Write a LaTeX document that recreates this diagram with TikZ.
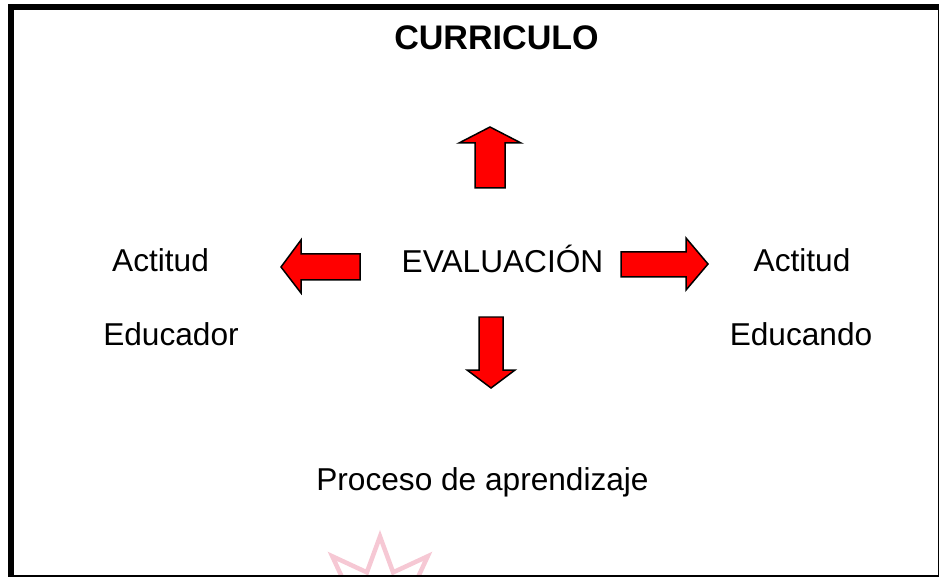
\documentclass[tikz,border=0pt]{standalone}
\usepackage{fontspec}
\setmainfont{Liberation Sans}
\usetikzlibrary{shapes.geometric}

\definecolor{sellorosa}{RGB}{246,200,212}

\begin{document}
\begin{tikzpicture}[%
    x=0.02cm,
    y=-0.02cm,
    lbl/.style={font={\fontsize{18}{21}\selectfont}, inner sep=0pt, anchor=base},
    head/.style={lbl, font={\fontsize{19.4}{22}\selectfont\bfseries}},
    blk/.style={draw=black, fill=red, line width=0.03cm, line join=miter},
    marco/.style={draw=black, line width=0.12cm},
    sello/.style={star, star points=8, star point ratio=1.97, draw=sellorosa, line width=0.09cm, minimum size=2.7cm, inner sep=0pt}
    ]

    \useasboundingbox (0,0) rectangle (939,577);

    % watermark star at the bottom
    \node[sello] (star) at (380,604) {};

    \draw[marco] (11,7) rectangle (940.5,578);

    \node[head] (curr) at (496.5,50) {CURRICULO};
    \node[lbl] (eval) at (502.5,273) {EVALUACIÓN};

    \node[lbl] (actL) at (160.5,272) {Actitud};
    \node[lbl] (edL) at (171,345) {Educador};
    \node[lbl] (actR) at (802,272) {Actitud};
    \node[lbl] (edR) at (801,345) {Educando};

    \node[lbl] (proc) at (482.5,490) {Proceso de aprendizaje};

    % block arrows
    \draw[blk] (490,127) -- (521,143) -- (505,143) -- (505,188) -- (475,188) -- (475,143) -- (459,143) -- cycle;
    \draw[blk] (281,267) -- (301,240) -- (301,254) -- (360,254) -- (360,280) -- (301,280) -- (301,293) -- cycle;
    \draw[blk] (708,264) -- (686,238) -- (686,252) -- (621,252) -- (621,277) -- (686,277) -- (686,290) -- cycle;
    \draw[blk] (491,388) -- (467,370) -- (479,370) -- (479,317) -- (503,317) -- (503,370) -- (515,370) -- cycle;

\end{tikzpicture}
\end{document}
